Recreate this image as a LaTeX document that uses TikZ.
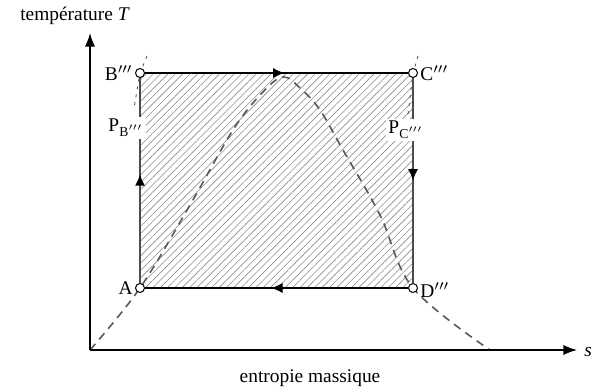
\documentclass[tikz,border=0pt]{standalone}
\usepackage{fontspec}
\setmainfont{Liberation Serif}
\usetikzlibrary{arrows.meta,patterns.meta,decorations.markings,backgrounds}
\tikzset{
  etat/.style={circle, draw, fill=white, inner sep=0pt, minimum size=4.5pt, line width=0.5pt},
  lbl/.style={font=\fontsize{9.7}{11}\selectfont, inner sep=1pt},
  axe/.style={-{Latex[length=2.4mm,width=1.8mm]}, line width=0.7pt},
  cote/.style={line width=0.9pt, black!70},
  sens/.style={postaction={decorate}, decoration={markings, mark=at position #1 with {\arrow[black]{Latex[length=2mm,width=1.8mm]}}}},
  isobare/.style={line width=0.4pt, black!70, dash pattern=on 1.5pt off 2.5pt},
  saturation/.style={line width=0.8pt, black!65, dash pattern=on 4pt off 3pt},
  hachure/.style={pattern={Lines[angle=45,distance=2.6pt,line width=0.3pt]}, pattern color=black!45},
}

\begin{document}
\begin{tikzpicture}[x=0.5pt, y=-0.5pt]
    \useasboundingbox (0,0) rectangle (592,389);
    % axes
    \coordinate (O) at (90,350);
    \coordinate (Tmax) at (90,33);
    \coordinate (smax) at (577,350);
    \draw[axe] (O) -- (Tmax);
    \draw[axe] (O) -- (smax);
    \node[lbl] (Tlab) at (75,16) {température \textit{T}};
    \node[lbl] (slab) at (310,378) {entropie massique};
    \node[lbl, anchor=west] (s) at (582,352) {\textit{s}};
    % cycle
    \node[etat] (A) at (140,288) {};
    \node[etat] (B) at (140,73) {};
    \node[etat] (C) at (413,73) {};
    \node[etat] (D) at (413,288) {};
    \node[lbl, anchor=east] (Alab) at (135,288) {A};
    \node[lbl, anchor=east] (Blab) at (135,73) {B$'''$};
    \node[lbl, anchor=west] (Clab) at (418,73) {C$'''$};
    \node[lbl, anchor=west] (Dlab) at (418,290) {D$'''$};
    \begin{scope}[on background layer]
      \fill[hachure] (A.center) rectangle (C.center);
      \draw[saturation] plot[smooth, tension=0.6] coordinates {(90,350) (140,288) (190,205) (233,130) (262,93) (283,77) (300,88) (320,110) (343,150) (380,215) (413,288) (490,350)};
      \draw[isobare] (147,56) -- (B.center) -- (134,108);
      \draw[isobare] (418,56) -- (C.center) -- (408,114);
    \end{scope}
    \draw[cote, sens=0.53] (A) -- (B);
    \draw[line width=0.6pt, sens=0.53] (B) -- (C);
    \draw[cote, sens=0.5] (C) -- (D);
    \draw[line width=0.6pt, sens=0.52] (D) -- (A);
    \node[lbl, fill=white] (PB) at (126,128) {P\textsubscript{B$'''$}};
    \node[lbl, fill=white] (PC) at (406,130) {P\textsubscript{C$'''$}};
  \end{tikzpicture}
\end{document}
